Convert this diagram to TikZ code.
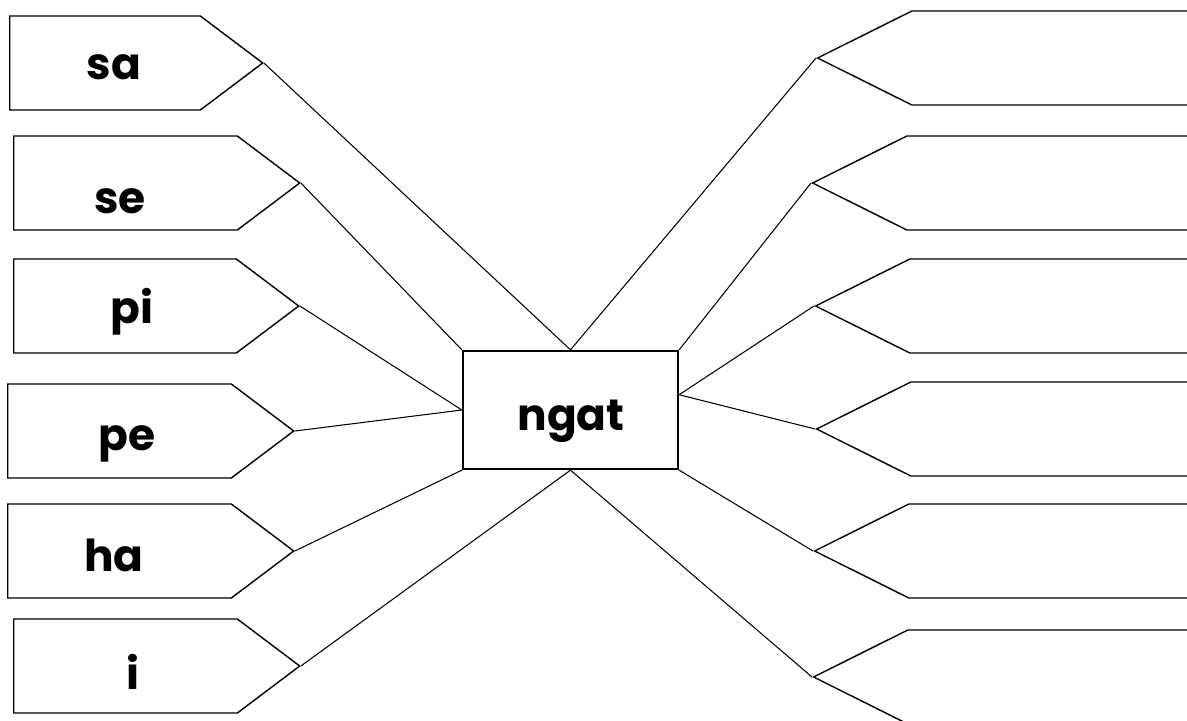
\documentclass[tikz,border=0pt]{standalone}
\usepackage{fontspec}
\newfontfamily\wordfont{Poppins}
\usetikzlibrary{shapes.symbols, positioning}

\begin{document}
\begin{tikzpicture}[
        x=0.2mm, y=-0.2mm,
        lsign/.style={signal, signal to=east, signal pointer angle=74, draw, line width=0.8pt,
                    minimum width=50.6mm, minimum height=18.8mm, inner sep=0pt, anchor=west},
        rsign/.style={signal, signal to=west, signal pointer angle=53, draw, line width=0.8pt,
                    minimum width=90mm, minimum height=18.8mm, inner sep=0pt, anchor=west},
        word/.style={font=\wordfont\bfseries\fontsize{25}{30}\selectfont, anchor=base, inner sep=0pt},
        hub/.style={rectangle, draw, line width=1.3pt, minimum width=43mm, minimum height=23.6mm,
                    inner sep=0pt},
        link/.style={line width=0.6pt}
    ]
    \useasboundingbox (0,0) rectangle (1187,720);

    % Centre
    \node[hub] (ngat) at (570.5,410) {};
    \node[word] (tngat) at (571,430) {ngat};

    % Left column
    \node[lsign] (sa) at (9,63)  {};
    \node[lsign, minimum width=57.2mm] (se) at (13,183) {};
    \node[lsign, minimum width=57mm]   (pi) at (13,306) {};
    \node[lsign, minimum width=57.2mm] (pe) at (7,431)  {};
    \node[lsign, minimum width=57.2mm] (ha) at (7,551)  {};
    \node[lsign, minimum width=57.2mm] (i)  at (13,666) {};
    \node[word] (tsa) at (114,80)  {sa};
    \node[word] (tse) at (120,213) {se};
    \node[word] (tpi) at (132,323) {pi};
    \node[word] (tpe) at (127,450) {pe};
    \node[word] (tha) at (114,571) {ha};
    \node[word] (ti)  at (133,689) {i};

    % Right column
    \node[rsign] (ra) at (816,58)  {};
    \node[rsign] (rb) at (811,183) {};
    \node[rsign] (rc) at (814,306) {};
    \node[rsign] (rd) at (815,429) {};
    \node[rsign] (re) at (813,551) {};
    \node[rsign] (rf) at (812,677) {};

    % Connections
    \draw[link] (sa.east)--(ngat.north); \draw[link] (se.east)--(ngat.north west);
    \draw[link] (pi.east)--(ngat.west);  \draw[link] (pe.east)--(ngat.west);
    \draw[link] (ha.east)--(ngat.south west); \draw[link] (i.east)--(ngat.south);
    \draw[link] (ra.west)--(ngat.north); \draw[link] (rb.west)--(ngat.north east);
    \draw[link] (rc.west)--(ngat.8);     \draw[link] (rd.west)--(ngat.8);
    \draw[link] (re.west)--(ngat.south east); \draw[link] (rf.west)--(ngat.south);
\end{tikzpicture}
\end{document}
